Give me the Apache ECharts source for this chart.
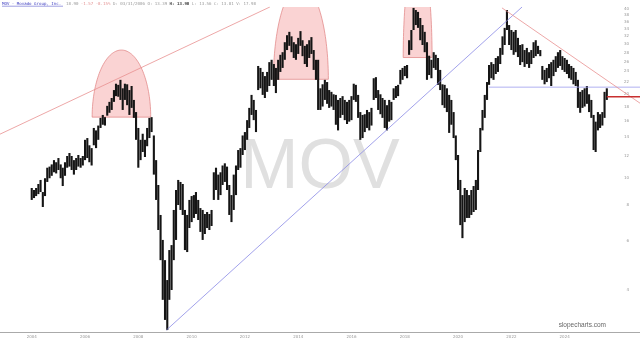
<!DOCTYPE html>
<html><head><meta charset="utf-8">
<script src="https://cdn.jsdelivr.net/npm/echarts@6/dist/echarts.min.js"></script>
<style>html,body{margin:0;padding:0;background:#fff}#c{width:640px;height:343px}</style>
</head><body><div id="c"></div>
<script>
// monthly bars starting Jan 2004
const startYear = 2004;
const highs = [
9.23,9.08,9.23,9.54,9.86,8.93,10.0,10.9,11.0,11.2,
11.6,11.4,11.8,11.2,10.9,11.4,12.0,12.3,12.0,11.6,
11.8,12.1,11.8,12.0,13.7,13.9,13.1,12.8,15.1,14.8,
15.4,16.4,16.8,16.5,18.1,18.7,19.3,20.6,21.7,21.5,
22.4,20.9,21.7,21.6,20.6,21.3,19.0,17.2,15.1,13.7,
14.4,13.7,15.1,16.4,16.5,14.2,11.6,9.46,7.40,6.03,
5.11,4.34,5.55,5.78,7.71,9.08,9.86,9.70,9.54,7.71,
7.40,8.37,8.64,8.71,8.93,8.37,7.83,7.71,7.46,7.58,
7.46,7.71,10.5,10.9,10.3,10.5,11.1,11.3,11.0,9.46,
8.71,10.3,11.1,12.6,12.8,14.2,14.6,16.1,17.8,19.8,
19.0,17.5,25.1,24.7,23.9,23.1,23.9,25.9,26.4,25.5,
24.7,26.4,27.5,28.1,30.5,32.3,33.2,32.0,30.5,30.0,
31.6,33.4,31.0,29.6,30.0,31.0,31.8,28.6,26.4,26.4,
20.9,21.6,22.4,22.0,20.6,20.3,19.9,19.8,19.0,19.3,
19.6,19.0,18.7,19.0,19.6,21.7,21.5,19.8,17.2,16.8,
16.9,17.5,17.2,17.8,22.7,22.9,20.6,19.9,19.3,19.0,
18.2,19.0,18.7,20.9,21.3,21.5,24.3,24.7,25.1,25.3,
31.0,33.7,40.4,39.7,39.1,37.2,35.1,33.2,30.5,27.3,
26.4,28.1,27.5,26.8,24.3,21.6,21.5,20.9,19.8,19.0,
17.2,14.2,12.1,9.86,8.71,9.23,9.08,8.71,9.08,9.38,
9.86,12.6,15.1,17.5,19.8,22.0,25.3,25.9,25.5,26.8,
27.2,29.1,32.0,34.3,39.7,35.1,33.7,33.2,33.7,31.6,
29.8,30.0,28.6,29.1,28.1,28.6,30.5,31.0,29.6,28.6,
25.1,24.3,24.7,25.5,25.9,26.4,27.2,28.1,28.6,27.2,
26.8,26.4,25.5,25.1,24.7,23.9,22.4,20.3,20.6,20.9,
21.3,19.9,19.0,16.8,15.9,17.2,16.9,17.2,20.3,20.9
];
const lows = [
8.37,8.50,8.64,8.78,8.93,7.90,8.64,9.70,10.0,10.2,
10.5,10.4,10.7,10.0,9.38,10.2,10.9,11.0,10.7,10.3,
10.7,11.0,10.9,11.1,11.6,11.8,11.4,11.1,13.1,12.8,
13.7,15.1,15.5,15.4,16.7,17.1,17.5,18.7,19.6,19.5,
19.0,17.5,19.0,18.2,16.8,17.8,16.4,13.7,10.9,11.6,
12.4,11.9,13.0,13.9,14.6,10.3,8.37,6.54,5.11,3.69,
3.13,2.88,3.69,4.00,5.11,6.03,8.03,7.71,7.40,5.55,
5.46,6.65,6.98,7.22,7.46,7.10,6.44,6.03,6.33,6.65,
6.54,6.76,8.37,9.08,8.37,8.71,9.46,9.70,9.08,7.40,
6.98,7.71,8.71,10.7,10.9,12.1,12.6,13.7,15.1,16.8,
16.1,14.6,20.6,20.9,19.8,19.3,20.3,21.3,22.4,21.3,
20.1,22.4,23.9,24.7,26.4,28.6,29.6,28.1,26.8,26.4,
27.7,29.6,27.2,25.5,24.9,26.8,27.7,24.3,22.4,17.5,
17.5,18.0,19.0,18.4,17.8,18.0,17.5,15.5,14.8,16.4,
16.8,16.1,15.6,15.9,16.1,19.0,18.7,16.4,13.7,13.9,
14.6,15.1,14.8,15.4,19.0,19.3,17.5,16.9,16.4,15.1,
14.8,15.9,16.1,19.0,19.3,19.6,21.6,22.4,23.1,22.7,
27.5,28.6,33.7,35.1,34.3,31.0,29.8,28.1,22.4,23.3,
22.7,24.7,24.3,21.5,20.6,18.2,17.8,17.2,14.5,15.5,
13.9,11.6,9.08,6.81,6.12,6.98,7.22,7.22,7.40,7.58,
7.71,9.08,12.4,14.8,16.4,19.0,21.5,22.7,22.4,23.5,
23.9,25.5,27.5,29.8,33.7,29.8,28.6,27.5,28.1,27.0,
25.3,25.9,24.9,25.5,24.7,25.5,26.8,27.2,27.7,27.2,
22.4,21.6,22.0,22.7,21.3,23.1,23.9,24.7,25.1,24.3,
23.9,23.5,22.7,22.4,21.6,21.3,17.8,17.1,17.8,18.0,
18.4,17.2,16.4,12.6,12.4,14.8,15.1,15.4,16.4,19.0
];
const lastClose = 19.5;
const yearTicks = [2004,2006,2008,2010,2012,2014,2016,2018,2020,2022,2024];
const priceTicks = [4,6,8,10,12,14,16,18,20,22,24,26,28,30,32,34,36,38,40];
const xRange = ['2002-10-23', '2026-10-30'];
const yRange = [2.835, 40.7];
const redTrend = [['2002-10-23', 14.35], ['2012-12-08', 40.7]];
const blueTrend = [['2009-01-20', 2.88], ['2022-05-27', 40.7]];
const blueLevel = [['2021-03-01', 21.1], ['2026-10-30', 21.1]];
const pinkTrend = [['2021-08-25', 40.4], ['2026-10-30', 18.5]];
// [start, end, base price, top price]
const domes = [
  ['2006-04-08', '2008-06-19', 16.5, 28.6],
  ['2013-01-26', '2015-02-18', 22.5, 48.7],
  ['2017-12-10', '2019-01-10', 26.9, 65.0]
];

const ts = s => Date.parse(s + 'T00:00:00Z');
const dates = highs.map((_, i) => {
  const y = startYear + Math.floor(i / 12), m = i % 12 + 1;
  return y + '-' + (m < 10 ? '0' + m : m) + '-01';
});
const barData = dates.map((d, i) => [ts(d), lows[i], highs[i]]);
const lastT = ts(dates[dates.length - 1]);
const pair = arr => arr.map(p => [ts(p[0]), p[1]]);

const chart = echarts.init(document.getElementById('c'), null, {renderer: 'canvas'});
chart.setOption({
  animation: false,
  backgroundColor: '#fff',
  grid: {left: 0, right: 0, top: 7, bottom: 11},
  xAxis: {
    type: 'value', min: ts(xRange[0]), max: ts(xRange[1]),
    axisLine: {show: true, lineStyle: {color: '#aaa', width: 1}},
    axisTick: {show: false}, splitLine: {show: false},
    axisLabel: {
      customValues: yearTicks.map(y => Date.UTC(y, 0, 1)),
      formatter: v => String(new Date(v).getUTCFullYear()),
      fontSize: 4, color: '#999', margin: 3, fontFamily: 'DejaVu Sans'
    }
  },
  yAxis: {
    type: 'log', min: yRange[0], max: yRange[1], position: 'right',
    axisLine: {show: false}, axisTick: {show: false}, splitLine: {show: false},
    axisLabel: {
      customValues: priceTicks, inside: true, margin: 11,
      formatter: v => String(Math.round(v)),
      fontSize: 4, color: '#999', fontFamily: 'DejaVu Sans'
    }
  },
  graphic: [
    {type: 'text', z: 0, left: 'center', top: 134, style: {text: 'MOV', font: '70px "Liberation Sans"', fill: '#e0e0e0'}},
    {type: 'text', z: 10, left: 2, top: 2, style: {
      rich: {
        t: {fontSize: 4.1, fontFamily: 'DejaVu Sans Mono', fill: '#3d3dc0'},
        g: {fontSize: 4.1, fontFamily: 'DejaVu Sans Mono', fill: '#999'},
        r: {fontSize: 4.1, fontFamily: 'DejaVu Sans Mono', fill: '#e39090'},
        b: {fontSize: 4.1, fontFamily: 'DejaVu Sans Mono', fill: '#444', fontWeight: 'bold'}
      },
      text: '{t|MOV - Movado Group, Inc.}{g|  18.90 }{r|-1.57 -8.15%}{g| D: 03/31/2006 O: 13.39 }{b|H: 13.90}{g| L: 13.56 C: 13.81 V: 17.98}'
    }},
    {type: 'line', z: 10, shape: {x1: 2, y1: 6.2, x2: 63, y2: 6.2}, style: {stroke: '#3d3dc0', lineWidth: 0.5}},
    {type: 'text', z: 10, right: 34, top: 322, style: {text: 'slopecharts.com', font: '6.5px "Liberation Sans"', fill: '#666'}}
  ],
  series: [
    {
      type: 'custom', z: 1, clip: true, silent: true,
      data: domes.map(d => [ts(d[0]), ts(d[1]), d[2], d[3]]),
      encode: {x: [0, 1], y: [2, 3]},
      renderItem: (params, api) => {
        const p1 = api.coord([api.value(0), api.value(2)]);
        const p2 = api.coord([api.value(1), api.value(3)]);
        const cx = (p1[0] + p2[0]) / 2, a = (p2[0] - p1[0]) / 2, by = p1[1], b = p1[1] - p2[1];
        const pts = [];
        for (let k = 0; k <= 80; k++) {
          const th = Math.PI * k / 80;
          pts.push([cx + a * Math.cos(th), by - b * Math.sin(th)]);
        }
        return {type: 'polygon', shape: {points: pts}, style: {fill: 'rgba(240,120,120,0.33)', stroke: '#e08080', lineWidth: 0.7}};
      }
    },
    {
      type: 'custom', z: 3, clip: true, silent: true,
      data: barData,
      encode: {x: 0, y: [1, 2]},
      renderItem: (params, api) => {
        const lo = api.coord([api.value(0), api.value(1)]);
        const hi = api.coord([api.value(0), api.value(2)]);
        return {type: 'line', shape: {x1: lo[0], y1: lo[1], x2: hi[0], y2: hi[1]}, style: {stroke: '#151515', lineWidth: 2.1}};
      }
    },
    {type: 'line', z: 4, silent: true, symbol: 'none', data: pair(redTrend), lineStyle: {color: '#e89090', width: 0.8}},
    {type: 'line', z: 4, silent: true, symbol: 'none', data: pair(blueTrend), lineStyle: {color: '#8a8ae6', width: 0.8}},
    {type: 'line', z: 4, silent: true, symbol: 'none', data: pair(blueLevel), lineStyle: {color: '#9a9aee', width: 0.8}},
    {type: 'line', z: 4, silent: true, symbol: 'none', data: pair(pinkTrend), lineStyle: {color: '#e89090', width: 0.8}},
    {type: 'line', z: 5, silent: true, symbol: 'none', data: [[lastT, lastClose], [ts(xRange[1]), lastClose]], lineStyle: {color: '#c83030', width: 1.5}}
  ]
});
</script></body></html>
